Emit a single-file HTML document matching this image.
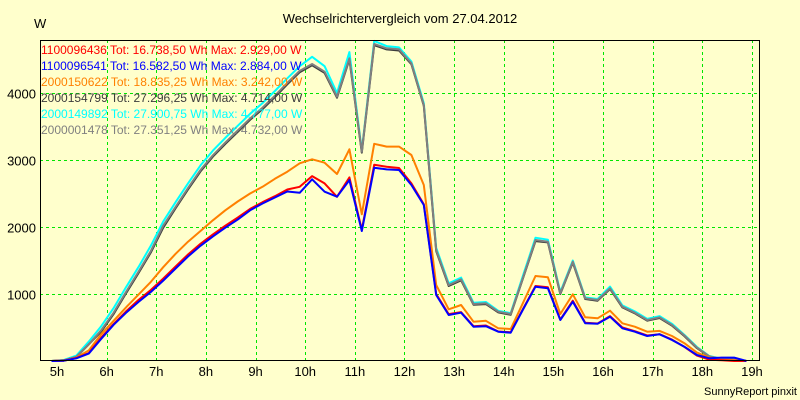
<!DOCTYPE html>
<html><head><meta charset="utf-8"><style>
body{margin:0;background:#ffffcc;}
svg{display:block;font-family:"Liberation Sans",Arial,sans-serif;}
</style></head><body>
<svg id="chart" width="800" height="400" xmlns="http://www.w3.org/2000/svg">
<rect x="0" y="0" width="800" height="400" fill="#ffffcc"/>
<text x="400" y="23" text-anchor="middle" font-size="13" fill="#000">Wechselrichtervergleich vom 27.04.2012</text>
<text x="34" y="28" font-size="13" fill="#000">W</text>
<text x="797" y="395" text-anchor="end" font-size="11" fill="#000">SunnyReport pinxit</text>
<g id="grid"></g>
<g id="series"></g>
<rect x="40.5" y="40.5" width="719" height="320" fill="none" stroke="#000" stroke-width="1"/>
<g id="axes"></g>
<g id="legend"></g>
</svg>
<script>
const times = [];
for (let i = 0; i < 57; i++) times.push(4.89 + 0.25 * i);
const hourTicks = [5,6,7,8,9,10,11,12,13,14,15,16,17,18,19];
const yTicks = [1000,2000,3000,4000];
const seriesNames = ["1100096436","1100096541","2000150622","2000154799","2000149892","2000001478"];
const seriesTotals = ["Tot: 16.738,50 Wh Max: 2.929,00 W","Tot: 16.582,50 Wh Max: 2.884,00 W","Tot: 18.835,25 Wh Max: 3.242,00 W","Tot: 27.296,25 Wh Max: 4.714,00 W","Tot: 27.900,75 Wh Max: 4.777,00 W","Tot: 27.351,25 Wh Max: 4.732,00 W"];
const seriesColors = ["#ff0000","#0000ff","#ff8000","#3c3c3c","#00ffff","#808080"];
const redValues = [0,5,45,120,350,550,740,910,1060,1230,1410,1590,1750,1890,2020,2140,2270,2370,2460,2560,2600,2760,2650,2450,2740,1960,2929,2900,2880,2650,2340,1000,700,730,520,530,440,430,780,1120,1100,620,900,570,560,670,500,445,380,400,320,210,80,20,10,0,0];
const blueValues = [0,5,40,110,330,540,720,880,1030,1200,1380,1560,1720,1860,1990,2110,2250,2350,2440,2530,2510,2712,2527,2452,2700,1940,2884,2860,2850,2627,2328,985,687,721,512,520,437,422,770,1109,1085,612,885,562,555,661,488,437,373,398,313,213,90,40,50,50,0];
const orangeValues = [0,5,50,160,400,600,800,990,1180,1400,1600,1780,1940,2100,2250,2380,2500,2600,2720,2826,2950,3010,2960,2791,3160,2189,3242,3200,3200,3075,2627,1134,771,836,587,600,488,478,870,1269,1249,701,995,652,637,751,562,512,437,450,373,265,125,50,20,10,0];
const darkValues = [0,10,60,250,440,700,1010,1310,1620,1990,2280,2560,2830,3050,3240,3420,3600,3760,3940,4130,4310,4413,4300,3930,4500,3110,4714,4650,4635,4430,3810,1640,1120,1205,840,850,725,690,1240,1790,1770,1000,1470,925,900,1075,800,712,602,642,528,372,192,66,28,18,0];
const cyanValues = [0,15,80,290,520,790,1100,1400,1720,2080,2370,2650,2920,3140,3330,3510,3690,3850,4030,4220,4400,4540,4400,4000,4610,3140,4777,4700,4680,4470,3850,1690,1160,1245,870,880,750,715,1280,1840,1810,1030,1500,950,925,1110,830,740,630,670,555,390,210,75,35,20,0];
const grayValues = [0,10,60,250,460,720,1030,1330,1640,2020,2300,2580,2850,3070,3260,3440,3620,3780,3960,4150,4330,4433,4318,3945,4518,3124,4732,4667,4652,4443,3821,1657,1134,1219,851,861,736,701,1250,1806,1781,1010,1482,936,910,1085,810,721,612,652,537,380,200,70,30,20,0];
const allSeries = [redValues, blueValues, orangeValues, darkValues, cyanValues, grayValues];

const NS = "http://www.w3.org/2000/svg";
const xLeft = 40, xRight = 760, yTop = 40, yBottom = 361;
function xScale(t){ return 57 + (t - 5) * 49.64; }
function yScale(v){ return 361 - v * 0.067; }

const grid = document.getElementById('grid');
const axes = document.getElementById('axes');
hourTicks.forEach(h => {
  const x = Math.round(xScale(h)) + 0.5;
  if (h >= 6 && h <= 19) {
    const l = document.createElementNS(NS,'line');
    l.setAttribute('x1',x); l.setAttribute('x2',x); l.setAttribute('y1',yTop); l.setAttribute('y2',yBottom);
    l.setAttribute('stroke','#00e600'); l.setAttribute('stroke-dasharray','3,3');
    
    
    grid.appendChild(l);
  }
  const t = document.createElementNS(NS,'text');
  t.setAttribute('x', xScale(h)); t.setAttribute('y', 376); t.setAttribute('text-anchor','middle'); t.setAttribute('font-size','13');
  t.textContent = h + 'h';
  
  
  axes.appendChild(t);
});
yTicks.forEach(v => {
  const y = Math.round(yScale(v)) + 0.5;
  const l = document.createElementNS(NS,'line');
  l.setAttribute('x1',xLeft); l.setAttribute('x2',xRight); l.setAttribute('y1',y); l.setAttribute('y2',y);
  l.setAttribute('stroke','#00e600'); l.setAttribute('stroke-dasharray','3,3');
  
  
  grid.appendChild(l);
  const t = document.createElementNS(NS,'text');
  t.setAttribute('x', 36); t.setAttribute('y', y + 5); t.setAttribute('text-anchor','end'); t.setAttribute('font-size','13');
  t.textContent = v;
  
  
  axes.appendChild(t);
});

const sg = document.getElementById('series');
const drawOrder = [4,3,5,2,0,1];
drawOrder.forEach(si => {
  const vals = allSeries[si];
  const pts = vals.map((v,i) => xScale(times[i]).toFixed(1) + ',' + yScale(v).toFixed(1)).join(' ');
  const p = document.createElementNS(NS,'polyline');
  p.setAttribute('points', pts);
  p.setAttribute('fill','none'); p.setAttribute('stroke', seriesColors[si]); p.setAttribute('stroke-width','2');
  p.setAttribute('stroke-linejoin','round');
  
  
  sg.appendChild(p);
});

const lg = document.getElementById('legend');
seriesNames.forEach((n,i) => {
  const t = document.createElementNS(NS,'text');
  t.setAttribute('x', 41); t.setAttribute('y', 54 + i*16); t.setAttribute('font-size','12');
  t.setAttribute('fill', seriesColors[i]);
  t.textContent = n + ' ' + seriesTotals[i];
  
  
  lg.appendChild(t);
});
</script>
</body></html>
